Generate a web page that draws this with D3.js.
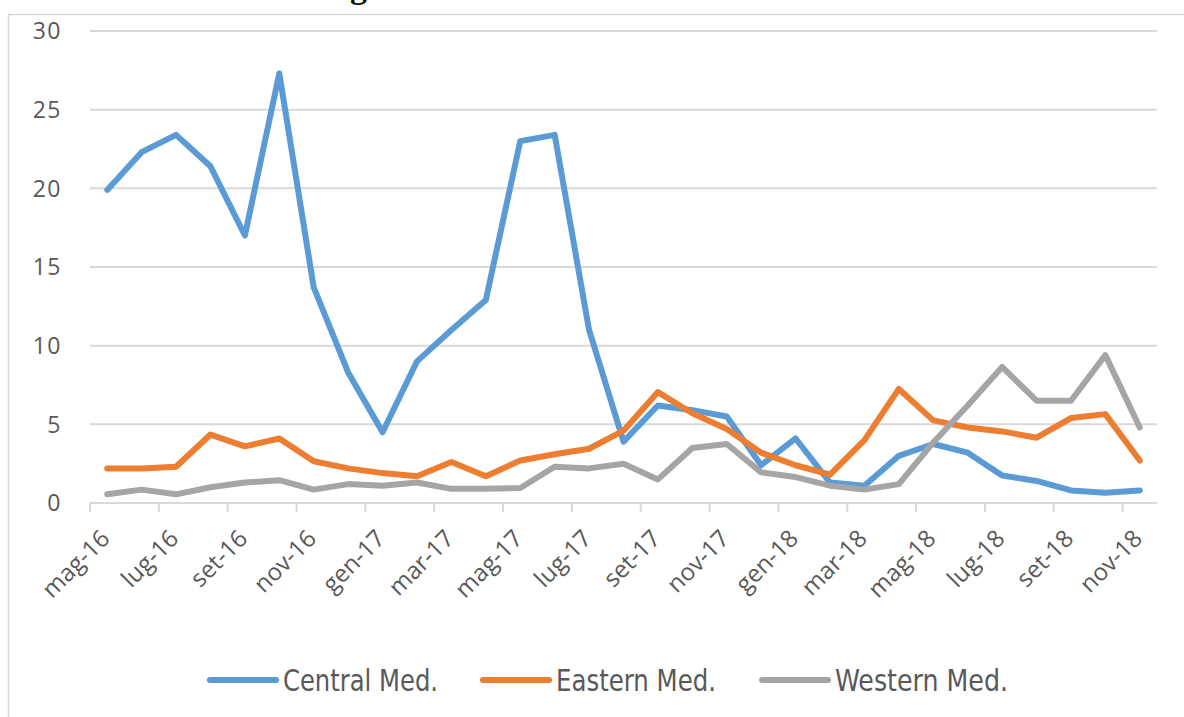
<!DOCTYPE html>
<html>
<head>
<meta charset="utf-8">
<script src="https://cdn.jsdelivr.net/npm/d3@7"></script>
<style>
  html, body { margin: 0; padding: 0; background: #ffffff; }
  svg { display: block; }
</style>
</head>
<body>
<svg id="chart" width="1184" height="717"></svg>
<script>
const months = ["mag-16","giu-16","lug-16","ago-16","set-16","ott-16","nov-16","dic-16",
  "gen-17","feb-17","mar-17","apr-17","mag-17","giu-17","lug-17","ago-17","set-17","ott-17","nov-17","dic-17",
  "gen-18","feb-18","mar-18","apr-18","mag-18","giu-18","lug-18","ago-18","set-18","ott-18","nov-18"];
const centralMed = [19.9, 22.3, 23.4, 21.4, 17.0, 27.3, 13.7, 8.3, 4.5, 9.0, 11.0, 12.9, 23.0, 23.4, 11.0, 3.9,
  6.2, 5.9, 5.5, 2.4, 4.1, 1.3, 1.1, 3.0, 3.75, 3.2, 1.75, 1.4, 0.8, 0.65, 0.8];
const easternMed = [2.2, 2.2, 2.3, 4.35, 3.6, 4.1, 2.65, 2.2, 1.9, 1.7, 2.6, 1.7, 2.7, 3.1, 3.45, 4.6,
  7.05, 5.7, 4.7, 3.2, 2.4, 1.8, 4.0, 7.25, 5.25, 4.8, 4.55, 4.15, 5.4, 5.65, 2.7];
const westernMed = [0.55, 0.85, 0.55, 1.0, 1.3, 1.45, 0.85, 1.2, 1.1, 1.3, 0.9, 0.9, 0.95, 2.3, 2.2, 2.5,
  1.5, 3.5, 3.75, 1.95, 1.65, 1.1, 0.85, 1.2, 3.85, 6.2, 8.65, 6.5, 6.5, 9.4, 4.8];
const seriesNames = ["Central Med.", "Eastern Med.", "Western Med."];
const seriesColors = ["#5B9BD5", "#ED7D31", "#A5A5A5"];
const yTicks = [0, 5, 10, 15, 20, 25, 30];
const xLabelEvery = 2;

const seriesData = [centralMed, easternMed, westernMed];

const svg = d3.select("#chart");
const textColor = "#595959";
const gridColor = "#d9d9d9";

// outer frame
svg.append("rect").attr("x", 8.5).attr("y", 14.5).attr("width", 1200).attr("height", 720)
  .attr("fill", "none").attr("stroke", "#d9d9d9").attr("stroke-width", 1.5);

// cropped title fragment (cut off at the top, as in the reference)
svg.append("text").attr("x", 350).attr("y", -2)
  .attr("font-family", "Liberation Serif, serif").attr("font-size", 34).attr("font-weight", "bold")
  .attr("fill", "#111").text("g");

const x = d3.scaleBand().domain(months).range([90, 1157]).paddingInner(0).paddingOuter(0);
const y = d3.scaleLinear().domain([0, 30]).range([503, 31]);
const bw = x.bandwidth();
const cx = m => x(m) + bw / 2;

// gridlines
svg.append("g").selectAll("line").data(yTicks).join("line")
  .attr("x1", 90).attr("x2", 1157)
  .attr("y1", d => y(d)).attr("y2", d => y(d))
  .attr("stroke", gridColor).attr("stroke-width", 2);

// y labels
svg.append("g").selectAll("text").data(yTicks).join("text")
  .attr("x", 62).attr("y", d => y(d)).attr("dy", "0.36em")
  .attr("text-anchor", "end")
  .attr("font-family", "Open Sans, sans-serif").attr("font-size", 23).attr("letter-spacing", 1.5)
  .attr("fill", textColor).text(d => d);

// x tick marks at band boundaries every 2 categories
const tickMonths = months.filter((m, i) => i % xLabelEvery === 0);
svg.append("g").selectAll("line").data(tickMonths).join("line")
  .attr("x1", d => x(d)).attr("x2", d => x(d))
  .attr("y1", y(0)).attr("y2", y(0) + 9)
  .attr("stroke", gridColor).attr("stroke-width", 2);

// x labels
svg.append("g").selectAll("text").data(tickMonths).join("text")
  .attr("transform", d => `translate(${cx(d) + 4},${540}) rotate(-45)`)
  .attr("text-anchor", "end")
  .attr("font-family", "Open Sans, sans-serif").attr("font-size", 24)
  .attr("fill", textColor).text(d => d);

// lines
const line = d3.line().x((d, i) => cx(months[i])).y(d => y(d)).curve(d3.curveLinear);
svg.append("g").selectAll("path").data(seriesData).join("path")
  .attr("d", d => line(d))
  .attr("fill", "none")
  .attr("stroke", (d, i) => seriesColors[i])
  .attr("stroke-width", 6)
  .attr("stroke-linejoin", "round")
  .attr("stroke-linecap", "round");

// legend
const legendX = [210, 483, 762];
const legendW = [155, 160, 173];
const lg = svg.append("g").selectAll("g").data(seriesNames).join("g")
  .attr("transform", (d, i) => `translate(${legendX[i]},680)`);
lg.append("line").attr("x1", 0).attr("x2", 66).attr("y1", 0).attr("y2", 0)
  .attr("stroke", (d, i) => seriesColors[i]).attr("stroke-width", 6).attr("stroke-linecap", "round");
lg.append("text").attr("x", 73).attr("y", 0).attr("dy", "0.36em")
  .attr("font-family", "Liberation Sans Narrow, DejaVu Sans Condensed, sans-serif")
  .attr("font-size", 31).attr("fill", textColor)
  .attr("textLength", (d, i) => legendW[i]).attr("lengthAdjust", "spacingAndGlyphs")
  .text(d => d);
</script>
</body>
</html>
